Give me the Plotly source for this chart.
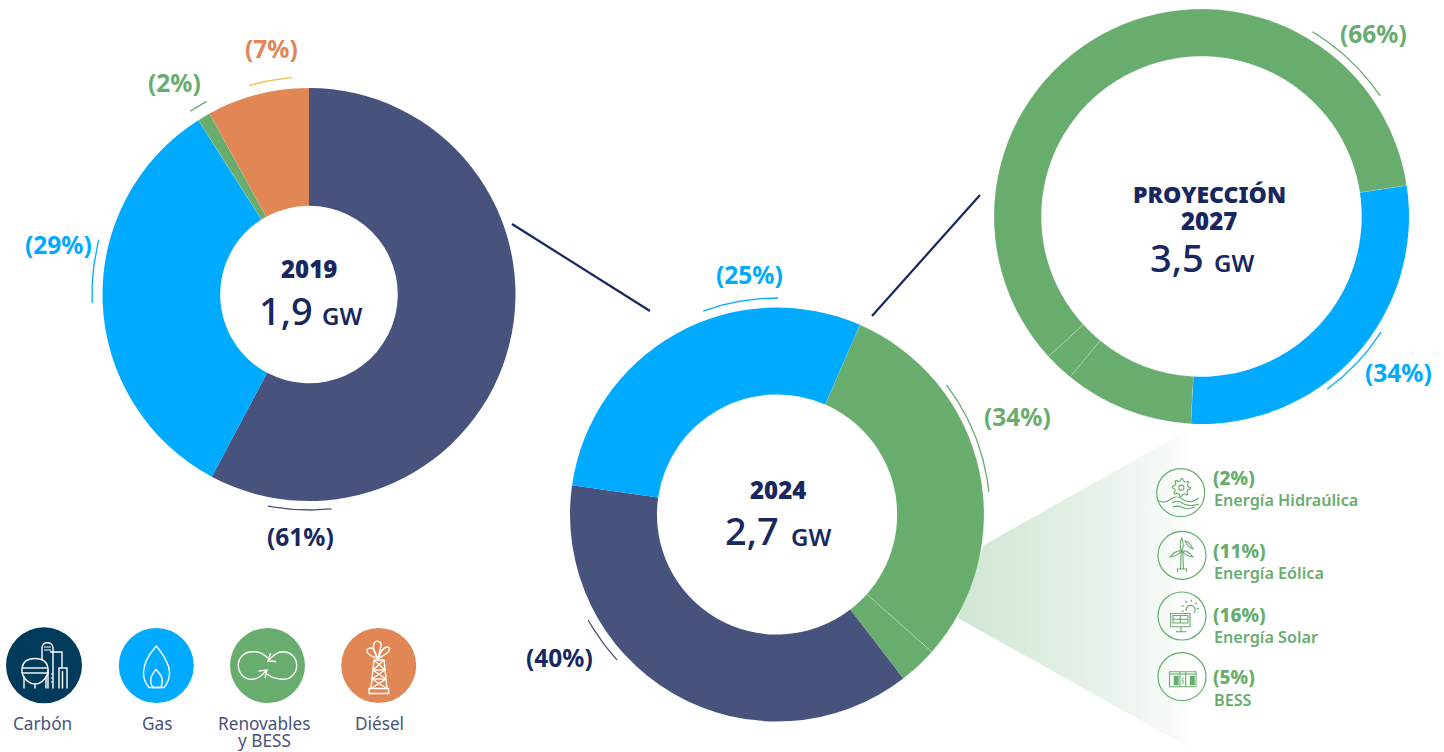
import numpy as np
import plotly.graph_objects as go

W, H = 1444, 752
NAVY_TXT = "#17275F"
DARK = "#47527D"
BLUE = "#00AAFF"
GREEN = "#68AD6E"
ORANGE = "#E18655"
COAL = "#003B5C"
GOLD = "#F2B944"
LABEL = "#47527D"

# slice shares as drawn, clockwise from each ring's start angle
fuels_2019 = ["Carbón", "Gas", "Renovables", "Diésel"]
values_2019 = [57.8, 33.2, 1.0, 8.0]
colors_2019 = [DARK, BLUE, GREEN, ORANGE]

fuels_2024 = ["Renovables A", "BESS", "Carbón", "Gas"]
values_2024 = [30.0, 3.0, 37.7, 29.3]
colors_2024 = [GREEN, GREEN, DARK, BLUE]

fuels_2027 = ["Gas", "Renovables A", "BESS", "Renovables B"]
values_2027 = [28.2, 10.1, 2.3, 59.4]
colors_2027 = [BLUE, GREEN, GREEN, GREEN]

# ring: cx, cy, r, hole, rotation
rings = [
    (fuels_2019, values_2019, colors_2019, 309, 294.5, 206.5, 0.43, 0),
    (fuels_2024, values_2024, colors_2024, 777, 514.5, 207, 0.58, 23.6),
    (fuels_2027, values_2027, colors_2027, 1201.5, 216.5, 207.5, 0.772, 81.4),
]

fig = go.Figure()

# fading wedge behind the 2024 ring
wedge_x = [984, 1197, 1197, 958]
wedge_y = [545, 425, 752, 618]
fig.add_trace(go.Scatter(
    x=wedge_x, y=wedge_y, mode="lines", fill="toself", line=dict(width=0),
    fillgradient=dict(type="horizontal", start=960, stop=1197,
                      colorscale=[[0, "#D0E6D4"], [0.55, "#E6F1E8"], [0.8, "#F2F8F3"], [1, "#FFFFFF"]]),
    hoverinfo="skip", showlegend=False))

for names, vals, cols, cx, cy, r, hole, rot in rings:
    line_cols = ["rgba(255,255,255,0.3)" if c == GREEN else "rgba(255,255,255,0)" for c in cols]
    fig.add_trace(go.Pie(
        labels=names, values=vals, hole=hole, rotation=rot, sort=False,
        direction="clockwise", textinfo="none", hoverinfo="skip", showlegend=False,
        marker=dict(colors=cols, line=dict(color=line_cols, width=0.6)),
        domain=dict(x=[(cx - r) / W, (cx + r) / W], y=[1 - (cy + r) / H, 1 - (cy - r) / H]),
    ))

# thin arcs: cx, cy, r, from, to, colour
arcs = [
    (309, 294, 216, 174, 191, DARK),
    (309, 294, 217, 267.6, 284.5, BLUE),
    (309, 294, 218, 327, 332, GREEN),
    (309, 294, 217, 344, 355.5, GOLD),
    (777, 514, 216, 340, 360.3, BLUE),
    (777, 514, 213, 52.7, 84, GREEN),
    (777, 514, 216.6, 227.6, 240.7, DARK),
    (1201.5, 216.5, 215.5, 31, 56, GREEN),
    (1201.5, 216.5, 213.5, 122.8, 143.9, BLUE),
]
for cx, cy, r, a0, a1, col in arcs:
    t = np.radians(np.linspace(a0, a1, 40))
    fig.add_trace(go.Scatter(x=cx + r * np.sin(t), y=cy - r * np.cos(t), mode="lines",
                             line=dict(color=col, width=1.3), hoverinfo="skip", showlegend=False))

shapes = []


def line(x0, y0, x1, y1, col, w=1.4):
    shapes.append(dict(type="line", x0=x0, y0=y0, x1=x1, y1=y1, xref="x", yref="y",
                       line=dict(color=col, width=w)))


def path(d, col, w=1.4, fill=None):
    shapes.append(dict(type="path", path=d, xref="x", yref="y", line=dict(color=col, width=w),
                       fillcolor=fill if fill else "rgba(0,0,0,0)"))


def circle(cx, cy, r, col, fill=None, w=1.0):
    shapes.append(dict(type="circle", x0=cx - r, x1=cx + r, y0=cy - r, y1=cy + r, xref="x", yref="y",
                       fillcolor=fill if fill else "rgba(0,0,0,0)",
                       line=dict(color=col, width=w if not fill else 0)))


def rect(x0, y0, x1, y1, col, w=1.0, fill=None):
    shapes.append(dict(type="rect", x0=x0, x1=x1, y0=y0, y1=y1, xref="x", yref="y",
                       fillcolor=fill if fill else "rgba(0,0,0,0)", line=dict(color=col, width=w)))


# connectors
line(512, 224, 650, 311, NAVY_TXT, 2.2)
line(872, 316, 980, 195, NAVY_TXT, 2.2)

# legend discs
circle(44, 665.3, 38, COAL, COAL)
circle(156.3, 665.5, 37.5, BLUE, BLUE)
circle(267.5, 665.5, 37.5, GREEN, GREEN)
circle(378.7, 665.5, 37.5, ORANGE, ORANGE)

WH = "#FFFFFF"
# carbón icon
path("M22 668 C23 661 29 658.5 35 658.5 C41 658.5 47 661 48 668 L48 673 C46 680 40 684 35 684 C30 684 24 680 22 673 Z", WH)
line(22, 668, 48, 668, WH); line(22, 673, 48, 673, WH)
line(24, 676, 24, 688.5, WH); line(46, 676, 46, 688.5, WH); line(35, 684, 35, 688.5, WH)
path("M42 660 L42 648 C42 641 53 641 53 648 L53 688.5", WH)
line(48, 670, 48, 688.5, WH)
path("M50 652 L62 652 L62 667", WH)
path("M59 688.5 L59 668 L67 668 L67 688.5", WH)
line(62.5, 671, 62.5, 688.5, WH)
for yy in (647, 650):
    line(44, yy, 51, yy, WH, 1)
for yy in (674, 678, 682):
    line(51, yy, 53, yy, WH, 1)

# gas icon
path("M156.3 646 C150 653 143.5 663 143.5 673 C143.5 679 146 684 149 687.5 L164 687.5 "
     "C167 684 169.5 679 169.5 673 C169.5 663 162 653 156.3 646 Z", WH)
path("M156 669.5 C153 673 150.7 676 150.7 680 C150.7 683 151.5 685.5 152.7 687.5 L160.7 687.5 "
     "C161.8 685.5 162.3 683 162.3 680 C162.3 676 159 673 156 669.5 Z", WH)

# renewables icon
path("M267.7 658 C262 652 258 651.7 252 651.7 C244 651.7 238.3 658 238.3 665.5 "
     "C238.3 673 244 679.3 252 679.3 C258 679.3 262 675 267 670", WH)
path("M258.5 671 L267 670 L265 678", WH)
path("M267 674 C272 678 277 679.3 283 679.3 C291 679.3 296.7 673 296.7 665.5 "
     "C296.7 658 291 651.7 283 651.7 C277 651.7 273 655 268 661", WH)
path("M276 661.5 L268 661 L270.5 653", WH)

# diesel icon
rect(369, 688.5, 388.5, 693.5, WH, 1.4)
path("M371 688.5 L374 660 L384 660 L387 688.5", WH)
line(373, 670, 385, 670, WH); line(372, 679, 386, 679, WH)
line(373, 670, 386, 679, WH); line(385, 670, 372, 679, WH)
line(372, 679, 386, 688, WH); line(386, 679, 372, 688, WH)
line(374, 660, 385, 670, WH); line(384, 660, 373, 670, WH)
path("M378 659 C374 652 372 645 375 642 C378 640 382 642 381 646 C380 650 379 654 378 659 Z", WH)
path("M379 658 C380 652 383 648 387 647 C391 647 390 651 387 653 C384 655 382 657 379 658 Z", WH)
path("M377 658 C372 657 367 654 367 651 C367 648 371 647 373 649 C375 651 376 654 377 658 Z", WH)

# breakdown icons
ICON_W = 1.1
for cx, cy in [(1180.7, 492.7), (1182, 555.3), (1182, 616), (1182, 676.7)]:
    circle(cx, cy, 24, GREEN, None, 1.2)

# hydro: gear and waves
gx, gy = 1181.3, 487.7
gear_pts = []
for k in range(40):
    rr = 9 if (k % 5) in (0, 1) else 6.8
    ang = np.radians(k * 9)
    gear_pts.append((gx + rr * np.cos(ang), gy + rr * np.sin(ang)))
path("M" + " L".join(f"{px:.1f} {py:.1f}" for px, py in gear_pts) + " Z", GREEN, ICON_W)
circle(gx, gy, 2.6, GREEN, None, ICON_W)
path("M1157 500 C1162 503 1166 503 1171 499 C1176 495 1180 497 1184 500 C1189 503 1193 502 1199 498", GREEN, ICON_W)
path("M1172 503 C1176 500 1180 501 1184 504 C1188 506 1193 506 1199 504", GREEN, ICON_W)
path("M1173 507 C1177 505 1180 506 1184 508 C1188 510 1191 508 1195 507", GREEN, ICON_W)

# wind
line(1181.2, 552, 1180.6, 569, GREEN, ICON_W); line(1182.8, 552, 1183.4, 569, GREEN, ICON_W)
path("M1177.5 572 L1177.5 569 L1186.5 569 L1186.5 572", GREEN, ICON_W)
path("M1181.7 538 C1179.5 543 1180 548 1181.7 552 C1183.4 548 1184 543 1181.7 538 Z", GREEN, ICON_W)
path("M1170 557 C1174 552 1178 550.5 1181 551 C1181 553 1176 556 1170 557 Z", GREEN, ICON_W)
path("M1193 557 C1189 552 1185 550.5 1182.5 551 C1182.5 553 1187 556 1193 557 Z", GREEN, ICON_W)
path("M1185 541 C1188 541 1191 545 1193 549 C1190 548 1187 545 1185 541 Z", GREEN, ICON_W)

# solar
rect(1170.7, 613.5, 1190, 626.7, GREEN, ICON_W)
rect(1173, 615.5, 1188, 623, GREEN, ICON_W)
line(1173, 619.3, 1188, 619.3, GREEN, ICON_W); line(1180.3, 615.5, 1180.3, 623, GREEN, ICON_W)
line(1181, 626.7, 1181, 631.5, GREEN, ICON_W); line(1176, 631.7, 1186.5, 631.7, GREEN, ICON_W)
path("M1186 611 C1186 606 1190 604.5 1193 606 C1195.5 607.5 1195.5 611 1194 613", GREEN, ICON_W)
for deg in range(-110, 130, 40):
    t = np.radians(deg)
    line(1190 + 6.5 * np.sin(t), 608.5 - 6.5 * np.cos(t), 1190 + 9 * np.sin(t), 608.5 - 9 * np.cos(t), GREEN, ICON_W)

# bess
rect(1169.5, 671.7, 1196, 686.7, GREEN, ICON_W)
line(1180, 672, 1180, 686.7, GREEN, ICON_W); line(1185.7, 672, 1185.7, 686.7, GREEN, ICON_W)
line(1169.5, 674, 1196, 674, GREEN, ICON_W)
rect(1174, 676, 1178.5, 685, GREEN, 0.5, GREEN)
rect(1190, 676, 1194.5, 685, GREEN, 0.5, GREEN)
path("M1183.5 677 L1182 681 L1184 681 L1182.5 684.5", GREEN, 0.8)

PCT = "Noto Sans"
ann = []


def text(x, y, s, size, col, family=PCT, weight=400, anchor="center"):
    ann.append(dict(x=x, y=y, xref="x", yref="y", text=s, showarrow=False, xanchor=anchor, yanchor="middle",
                    font=dict(family=family, size=size, color=col, weight=weight)))


# share labels
share_text = ["(61%)", "(29%)", "(2%)", "(7%)", "(25%)", "(34%)", "(40%)", "(66%)", "(34%)"]
share_x = [300.5, 58, 174, 271.5, 749.5, 1017, 559, 1373, 1398]
share_y = [536.5, 244.5, 82.5, 48.5, 274.5, 416.5, 657.5, 33.5, 372.5]
share_c = [NAVY_TXT, BLUE, GREEN, ORANGE, BLUE, GREEN, NAVY_TXT, GREEN, BLUE]
for s, x, y, c in zip(share_text, share_x, share_y, share_c):
    text(x, y, s, 24.5, c, PCT, 700)

# ring centres
text(309, 268, "2019", 24, NAVY_TXT, PCT, 900)
text(286, 310, "1,9", 38, NAVY_TXT, PCT, 500)
text(342, 315, "GW", 24, NAVY_TXT, PCT, 600)
text(778, 489, "2024", 24, NAVY_TXT, PCT, 900)
text(752, 530, "2,7", 38, NAVY_TXT, PCT, 500)
text(811, 536, "GW", 24, NAVY_TXT, PCT, 600)
text(1209, 194, "PROYECCIÓN", 23, NAVY_TXT, PCT, 900)
text(1209, 220, "2027", 24, NAVY_TXT, PCT, 900)
text(1177, 256.5, "3,5", 38, NAVY_TXT, PCT, 500)
text(1234, 262, "GW", 24, NAVY_TXT, PCT, 600)

# fuel legend
legend_text = ["Carbón", "Gas", "Renovables", "y BESS", "Diésel"]
legend_x = [42, 157, 264, 264, 379]
legend_y = [723, 723, 723, 740.5, 723]
for s, x, y in zip(legend_text, legend_x, legend_y):
    text(x, y, s, 17.2, LABEL)

# breakdown
break_pct = ["(2%)", "(11%)", "(16%)", "(5%)"]
break_name = ["Energía Hidraúlica", "Energía Eólica", "Energía Solar", "BESS"]
break_pct_y = [478, 551, 615, 677]
break_name_y = [500, 573, 637, 700]
for p, n, py, ny in zip(break_pct, break_name, break_pct_y, break_name_y):
    text(1211, py, p, 19, GREEN, PCT, 800, "left")
    text(1212, ny, n, 16.2, GREEN, PCT, 600, "left")

fig.update_layout(
    width=W, height=H, margin=dict(l=0, r=0, t=0, b=0), autosize=False,
    paper_bgcolor="white", plot_bgcolor="rgba(0,0,0,0)", hovermode=False, showlegend=False,
    xaxis=dict(range=[0, W], visible=False, fixedrange=True),
    yaxis=dict(range=[H, 0], visible=False, fixedrange=True),
    shapes=shapes, annotations=ann,
)

fig.write_html("out.html", config={"displayModeBar": False},
               post_script="document.body.style.margin='0';document.body.style.overflow='hidden';")
